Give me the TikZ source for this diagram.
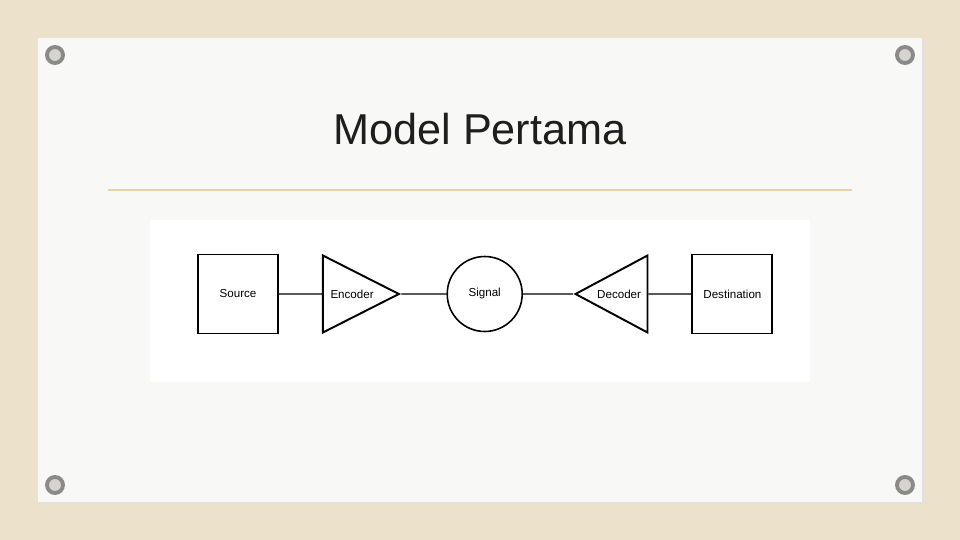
\documentclass[tikz,border=0pt]{standalone}
\usepackage{fontspec}
\setmainfont{Liberation Sans}
\usetikzlibrary{shapes.geometric, positioning}
\definecolor{SlideCanvas}{HTML}{ECE2CB}
\definecolor{SlidePaper}{HTML}{F8F8F6}
\definecolor{SlideRule}{HTML}{E6D2A6}
\definecolor{SlideInk}{HTML}{1E1E1E}
\definecolor{RingGray}{HTML}{8A8A88}
\definecolor{RingLight}{HTML}{D6D4CE}
\tikzset{
    % Square block (source / destination)
    block/.style={
        rectangle,
        draw=black,
        fill=white,
        line width=1.1pt,
        minimum width=1.6cm,
        minimum height=1.58cm,
        align=center,
        font=\fontsize{6.6}{8}\selectfont
    },
    % Triangle block (encoder / decoder)
    coder/.style={
        isosceles triangle,
        isosceles triangle stretches,
        draw=black,
        fill=white,
        line width=1.1pt,
        inner sep=0pt,
        minimum width=1.54cm,
        minimum height=1.52cm,
        font=\fontsize{6.6}{8}\selectfont
    },
    % Round block (signal)
    channel/.style={
        circle,
        draw=black,
        fill=white,
        line width=0.9pt,
        minimum size=1.5cm,
        font=\fontsize{6.6}{8}\selectfont
    },
    % Connector
    link/.style={
        draw=black,
        line width=0.8pt
    },
    % Grommet in the corners
    grommet/.style={
        circle,
        draw=RingGray,
        fill=RingLight,
        line width=2.2pt,
        minimum size=0.32cm,
        inner sep=0pt
    }
}
\begin{document}
\begin{tikzpicture}[x=0.02cm, y=-0.02cm, node distance=0.9cm]
        % Canvas and slide
        \fill[SlideCanvas] (0,0) rectangle (960,540);
        \useasboundingbox (0,0) rectangle (960,540);
        \fill[black!12] (39,39) rectangle (924,504);
        \fill[SlidePaper] (38,38) rectangle (922,502);

        % Corner grommets
        \node (g1) [grommet] at (55,55) {};
        \node (g2) [grommet] at (905,55) {};
        \node (g3) [grommet] at (55,485) {};
        \node (g4) [grommet] at (905,485) {};

        % Title
        \node (title) at (480,129) [text=SlideInk, font=\fontsize{24.6}{28}\selectfont] {Model Pertama};
        \draw[SlideRule, line width=1pt] (108,190) -- (852,190);

        % Diagram area
        \fill[white] (150,220) rectangle (810,382);

        % Blocks
        \node (source) [block] at (238,294) {Source};
        \node (encoder) [coder, right=0.86cm of source] {Encoder};
        \node (signal) [channel, right=0.9cm of encoder] {Signal};
        \node (decoder) [coder, shape border rotate=180, minimum height=1.44cm, right=1.0cm of signal] {Decoder};
        \node (dest) [block, right=0.86cm of decoder] {Destination};

        % Connectors
        \draw[link] (source) -- (encoder);
        \draw[link] (encoder) -- (signal);
        \draw[link] (signal) -- (decoder);
        \draw[link] (decoder) -- (dest);
    \end{tikzpicture}
\end{document}
